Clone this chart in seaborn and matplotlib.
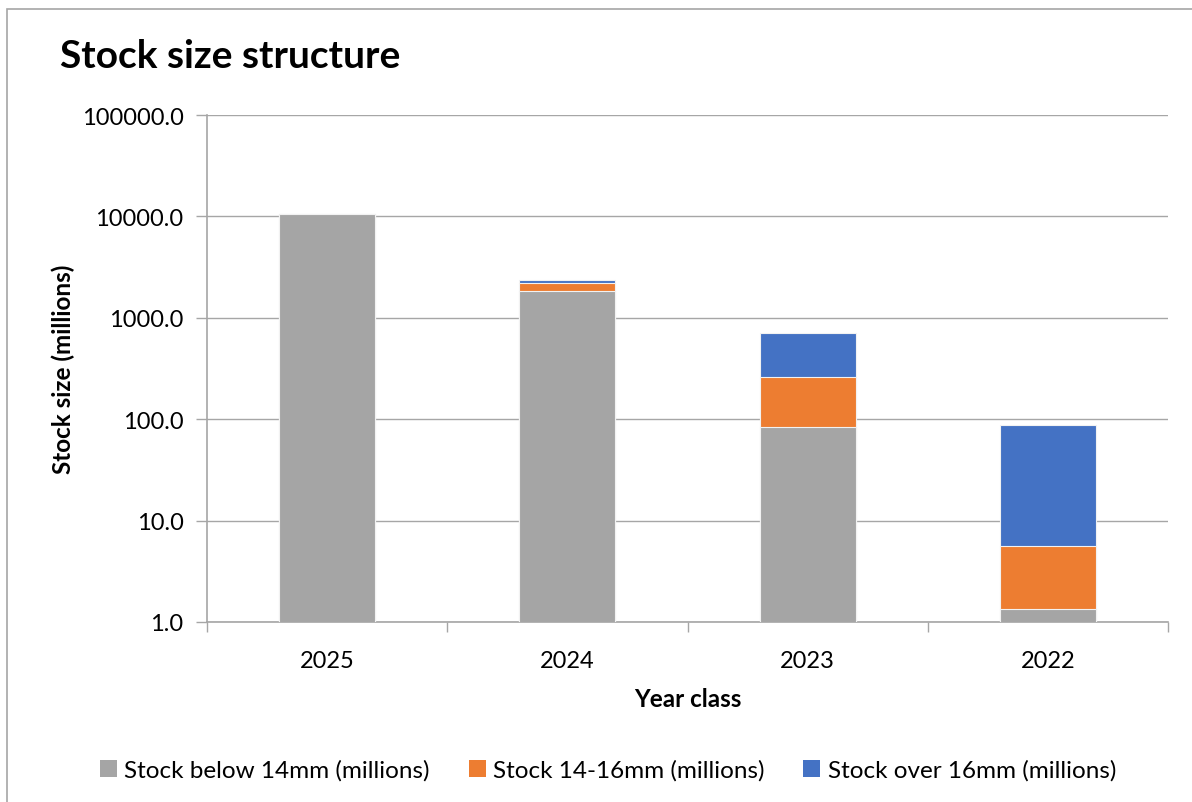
import matplotlib
matplotlib.use("Agg")
import matplotlib.pyplot as plt
from matplotlib.patches import Rectangle, Patch
from matplotlib.ticker import FuncFormatter, FixedLocator
import seaborn as sns
import pandas as pd

year_class = ["2025", "2024", "2023", "2022"]
below_14 = [10450, 1835, 83, 1.34]
mm_14_16 = [0, 387, 178, 4.26]
over_16 = [0, 118, 443, 82]

series_names = ["Stock below 14mm (millions)", "Stock 14-16mm (millions)",
                "Stock over 16mm (millions)"]
colors = ["#A5A5A5", "#ED7D31", "#4472C4"]

sns.set_theme(style="white")
plt.rcParams["font.family"] = ["Lato", "DejaVu Sans"]
plt.rcParams["text.color"] = "black"

df = pd.DataFrame({"year": year_class, "below": below_14,
                   "mid": mm_14_16, "over": over_16})
df["top_mid"] = df["below"] + df["mid"]
df["top_all"] = df["top_mid"] + df["over"]

fig = plt.figure(figsize=(11.92, 8.03), dpi=100)
ax = fig.add_axes([0.1737, 0.2242, 0.8062, 0.6313])

# stacked on log scale: draw cumulative tops, tallest first
for col, c in zip(["top_all", "top_mid", "below"], colors[::-1]):
    sns.barplot(data=df, x="year", y=col, color=c, width=0.4, order=year_class,
                saturation=1, edgecolor="#F2F2F2", linewidth=0.8, ax=ax, zorder=3)

ax.set_yscale("log")
ax.set_ylim(1, 100000)
ax.set_xlim(-0.5, 3.5)
ax.yaxis.set_major_locator(FixedLocator([1, 10, 100, 1000, 10000, 100000]))
ax.yaxis.set_minor_locator(FixedLocator([]))
ax.yaxis.set_major_formatter(FuncFormatter(lambda v, p: f"{v:.1f}"))
ax.grid(axis="y", color="#A6A6A6", linewidth=1, zorder=0)
ax.set_axisbelow(True)

for s in ["top", "right"]:
    ax.spines[s].set_visible(False)
for s in ["left", "bottom"]:
    ax.spines[s].set_color("#A6A6A6")
    ax.spines[s].set_linewidth(1.2)

ax.tick_params(axis="y", which="major", left=True, length=8, width=1,
               color="#A6A6A6", labelsize=17, labelcolor="black", pad=9)
ax.set_xticks(range(len(year_class)))
ax.set_xticklabels(year_class)
ax.set_xticks([-0.5, 0.5, 1.5, 2.5, 3.5], minor=True)
ax.tick_params(axis="x", which="major", length=0, labelsize=17,
               labelcolor="black", pad=20)
ax.tick_params(axis="x", which="minor", bottom=True, length=7, width=1,
               color="#A6A6A6")

ax.set_xlabel("Year class", fontsize=17.5, fontweight="bold", labelpad=12,
              color="black")
ax.set_ylabel("Stock size (millions)", fontsize=17.5, fontweight="bold",
              labelpad=5, color="black")

fig.text(0.050, 0.930, "Stock size structure", fontsize=28, fontweight="bold",
         ha="left", va="center", color="black")

handles = [Patch(facecolor=c, edgecolor="none") for c in colors]
fig.legend(handles, series_names, loc="center", bbox_to_anchor=(0.510, 0.040),
           ncol=3, frameon=False, fontsize=17.5, handlelength=0.7,
           handleheight=0.7, handletextpad=0.3, columnspacing=1.6)

fig.patches.append(Rectangle((7 / 1192, -0.05), 1.2, 1.05 - 10 / 803,
                             transform=fig.transFigure, fill=False,
                             edgecolor="#A6A6A6", linewidth=1.2))

fig.savefig("out.png", dpi=100)
